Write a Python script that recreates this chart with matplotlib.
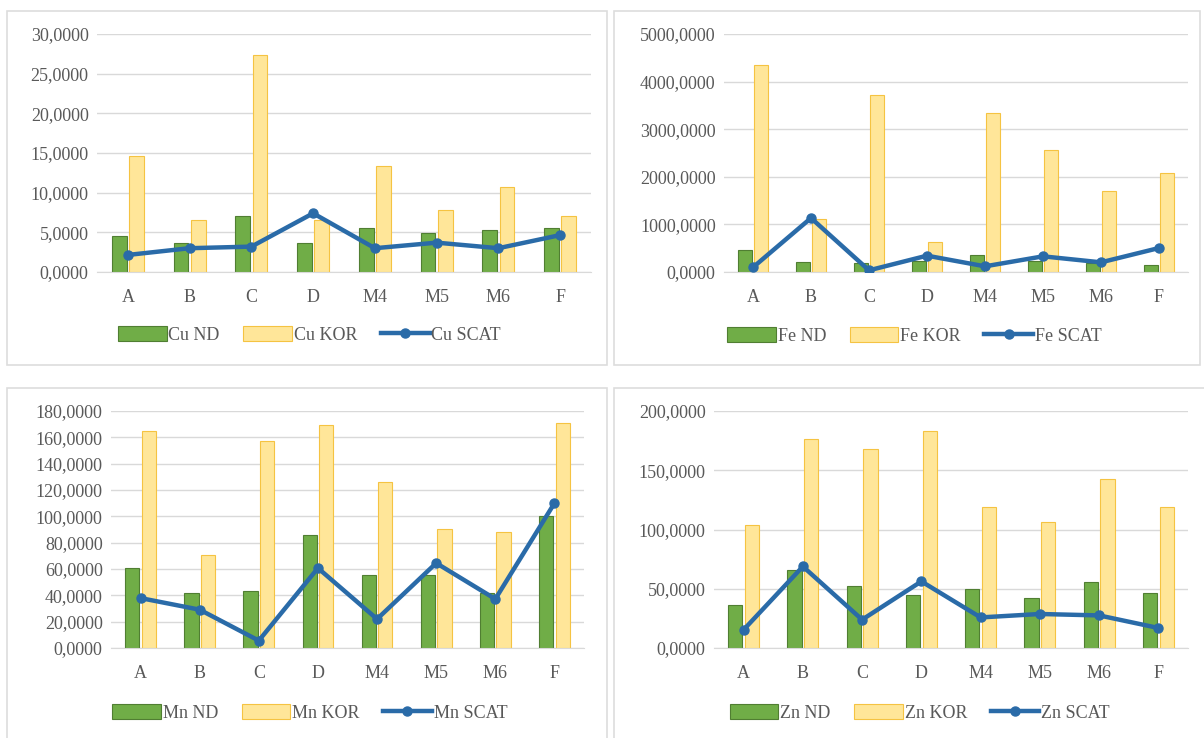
import matplotlib.pyplot as plt
import matplotlib.patches as mpatches
from matplotlib.ticker import FuncFormatter
import numpy as np

plt.rcParams['font.family'] = ['Liberation Serif', 'DejaVu Serif']

sites = ['A', 'B', 'C', 'D', 'M4', 'M5', 'M6', 'F']

cu_nd = [4.6, 3.65, 7.1, 3.7, 5.5, 4.9, 5.3, 5.5]
cu_kor = [14.6, 6.6, 27.4, 6.6, 13.4, 7.85, 10.7, 7.1]
cu_scat = [2.15, 3.0, 3.2, 7.4, 3.0, 3.7, 3.0, 4.65]

fe_nd = [470, 200, 190, 230, 350, 225, 190, 155]
fe_kor = [4355, 1113, 3725, 623, 3340, 2556, 1695, 2080]
fe_scat = [98, 1134, 35, 343, 119, 329, 203, 504]

mn_nd = [60.7, 41.7, 43.5, 85.5, 55.6, 55.6, 42.0, 100.4]
mn_kor = [165.0, 70.3, 157.3, 169.7, 126.2, 90.5, 88.2, 170.7]
mn_scat = [37.9, 29.1, 5.6, 60.7, 22.0, 64.5, 37.2, 110.0]

zn_nd = [36.0, 66.0, 52.5, 45.0, 49.7, 42.1, 56.0, 46.3]
zn_kor = [104.0, 176.0, 168.0, 183.4, 118.8, 106.7, 142.7, 118.8]
zn_scat = [15.4, 68.8, 23.9, 56.2, 25.8, 28.7, 27.5, 16.9]

W, H = 1204, 738
GREEN, GREEN_EDGE = '#70AD47', '#507E32'
YELLOW, YELLOW_EDGE = '#FFE699', '#F5C342'
BLUE = '#2A6BA8'
TXT = '#595959'

fig = plt.figure(figsize=(W / 100, H / 100), dpi=100)

# panel frames (pixel boxes: x0, y0, x1, y1)
frames = [(7, 11, 607, 365), (614, 11, 1200, 365),
          (7, 388, 607, 745), (614, 388, 1210, 745)]
for x0, y0, x1, y1 in frames:
    fig.patches.append(mpatches.Rectangle((x0 / W, 1 - y1 / H), (x1 - x0) / W, (y1 - y0) / H,
                                          transform=fig.transFigure, fill=False,
                                          edgecolor='#DDDDDD', lw=1.2))

panels = [
    ('Cu', cu_nd, cu_kor, cu_scat, 30, 5, (97, 34, 591, 272), (0.43, -0.265)),
    ('Fe', fe_nd, fe_kor, fe_scat, 5000, 1000, (724, 34, 1188, 272), (0.41, -0.27)),
    ('Mn', mn_nd, mn_kor, mn_scat, 180, 20, (111, 411, 584, 648), (0.42, -0.274)),
    ('Zn', zn_nd, zn_kor, zn_scat, 200, 50, (714, 411, 1188, 648), (0.434, -0.274)),
]

x = np.arange(len(sites))
bw = 0.24
for name, nd, kor, scat, ymax, step, (x0, y0, x1, y1), legpos in panels:
    ax = fig.add_axes([x0 / W, 1 - y1 / H, (x1 - x0) / W, (y1 - y0) / H])
    b1 = ax.bar(x - 0.14, nd, bw, color=GREEN, edgecolor=GREEN_EDGE, lw=0.8, label=name + ' ND', zorder=2)
    b2 = ax.bar(x + 0.14, kor, bw, color=YELLOW, edgecolor=YELLOW_EDGE, lw=0.8, label=name + ' KOR', zorder=2)
    l1, = ax.plot(x, scat, color=BLUE, lw=3.2, marker='o', ms=6.5, label=name + ' SCAT', zorder=3)
    ax.set_xlim(-0.5, len(sites) - 0.5)
    ax.set_ylim(0, ymax)
    ax.set_yticks(np.arange(0, ymax + step / 2, step))
    ax.yaxis.set_major_formatter(FuncFormatter(lambda v, p: ('%.4f' % v).replace('.', ',')))
    ax.set_xticks(x)
    ax.set_xticklabels(sites)
    ax.grid(axis='y', color='#D9D9D9', lw=1, zorder=0)
    ax.set_axisbelow(True)
    for s in ['top', 'right', 'left']:
        ax.spines[s].set_visible(False)
    ax.spines['bottom'].set_color('#D9D9D9')
    ax.tick_params(length=0, labelsize=13, colors=TXT)
    ax.tick_params(axis='x', pad=12)
    ax.tick_params(axis='y', pad=6)
    ax.legend(handles=[b1, b2, l1], loc='center', bbox_to_anchor=legpos, ncol=3, frameon=False,
              fontsize=13, handlelength=2.7, handleheight=0.9, handletextpad=0.1,
              columnspacing=1.3, labelcolor=TXT)

fig.savefig('out.png', dpi=100)
